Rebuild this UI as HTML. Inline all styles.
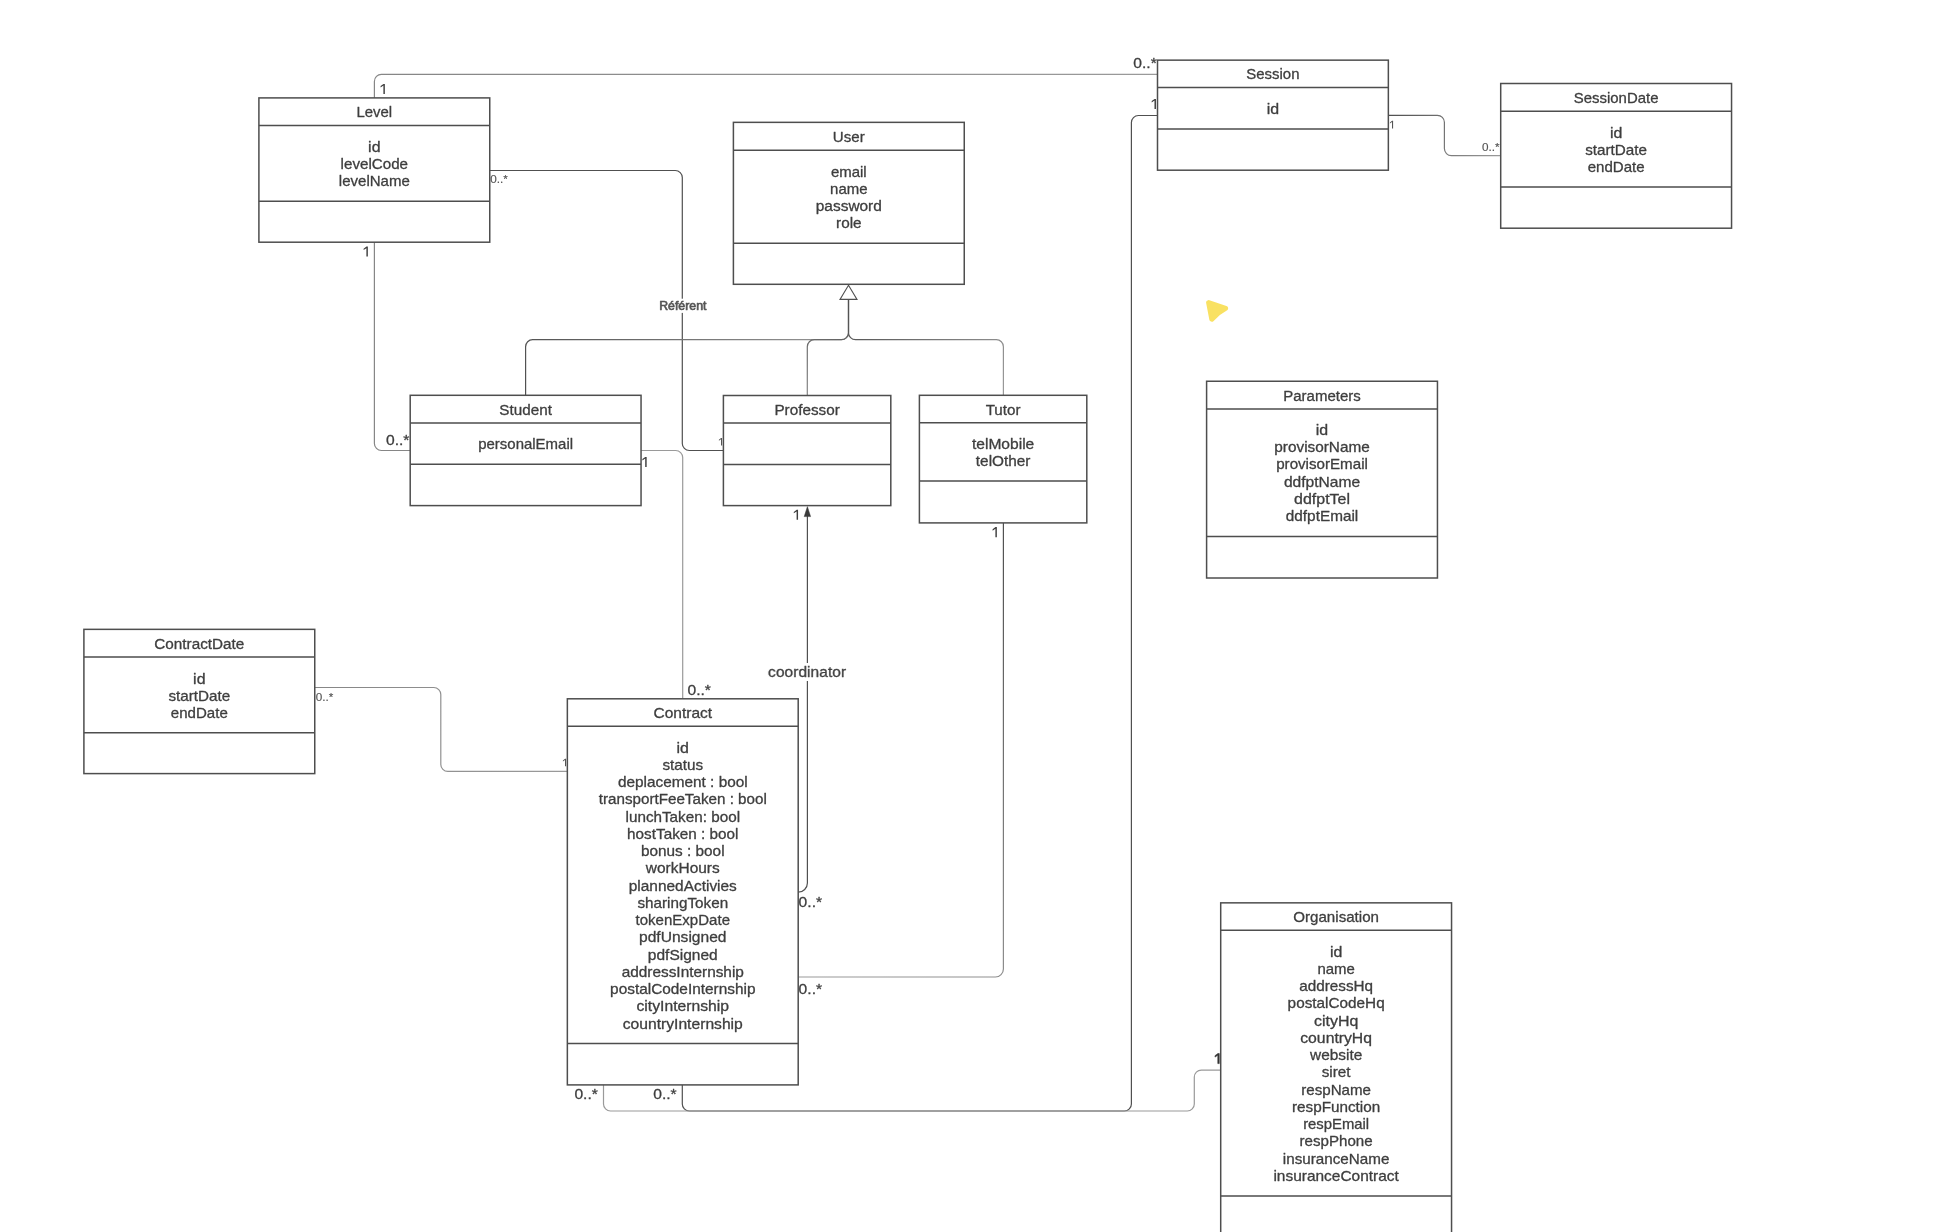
<!DOCTYPE html>
<html lang="en">
<head>
<meta charset="utf-8">
<title>Class diagram</title>
<style>
html,body{margin:0;padding:0;background:#fff;}
body{width:1934px;height:1232px;overflow:hidden;font-family:"Liberation Sans",sans-serif;}
svg{display:block;will-change:transform;}
text{font-family:"Liberation Sans",sans-serif;stroke-width:0.3px;stroke-linejoin:round;}
</style>
</head>
<body>
<svg width="1934" height="1232" viewBox="0 0 1934 1232" font-family="'Liberation Sans', sans-serif">
<defs><linearGradient id="g1" gradientUnits="userSpaceOnUse" x1="374.4" y1="98" x2="1157.5" y2="74.4"><stop offset="0" stop-color="#868686"/><stop offset="1" stop-color="#9a9a9a"/></linearGradient><linearGradient id="g2" gradientUnits="userSpaceOnUse" x1="525.6" y1="395.3" x2="848.5" y2="299.4"><stop offset="0" stop-color="#505050"/><stop offset="1" stop-color="#9a9a9a"/></linearGradient><linearGradient id="g3" gradientUnits="userSpaceOnUse" x1="807.3" y1="395.4" x2="848.5" y2="299.4"><stop offset="0" stop-color="#868686"/><stop offset="1" stop-color="#505050"/></linearGradient><linearGradient id="g4" gradientUnits="userSpaceOnUse" x1="1003.4" y1="395.3" x2="848.5" y2="299.4"><stop offset="0" stop-color="#9a9a9a"/><stop offset="1" stop-color="#505050"/></linearGradient><linearGradient id="g5" gradientUnits="userSpaceOnUse" x1="1003.4" y1="522.9" x2="798.2" y2="977"><stop offset="0" stop-color="#505050"/><stop offset="1" stop-color="#9a9a9a"/></linearGradient><linearGradient id="g6" gradientUnits="userSpaceOnUse" x1="1388.5" y1="115.3" x2="1500.7" y2="155.6"><stop offset="0" stop-color="#505050"/><stop offset="1" stop-color="#9a9a9a"/></linearGradient><linearGradient id="g7" gradientUnits="userSpaceOnUse" x1="315" y1="687.5" x2="567.3" y2="771.4"><stop offset="0" stop-color="#868686"/><stop offset="1" stop-color="#9a9a9a"/></linearGradient></defs>
<path d="M374.4 98L374.4 81.4A7 7 0 0 1 381.4 74.4L1157.5 74.4" fill="none" stroke="url(#g1)" stroke-width="1.2"/>
<path d="M374.4 242.2L374.4 443.5A7 7 0 0 0 381.4 450.5L410.2 450.5" fill="none" stroke="#868686" stroke-width="1.2"/>
<path d="M489.7 170.5L675.3 170.5A7 7 0 0 1 682.3 177.5L682.3 443.5A7 7 0 0 0 689.3 450.5L723.4 450.5" fill="none" stroke="#505050" stroke-width="1.2"/>
<path d="M641 450.5L675.7 450.5A7 7 0 0 1 682.7 457.5L682.7 698.8" fill="none" stroke="#9a9a9a" stroke-width="1.2"/>
<path d="M525.6 395.3L525.6 346.7A7 7 0 0 1 532.6 339.7L841.5 339.7A7 7 0 0 0 848.5 332.7L848.5 299.4" fill="none" stroke="url(#g2)" stroke-width="1.2"/>
<path d="M807.3 395.4L807.3 346.7A7 7 0 0 1 814.3 339.7L841.5 339.7A7 7 0 0 0 848.5 332.7L848.5 299.4" fill="none" stroke="url(#g3)" stroke-width="1.2"/>
<path d="M1003.4 395.3L1003.4 346.7A7 7 0 0 0 996.4 339.7L855.5 339.7A7 7 0 0 1 848.5 332.7L848.5 299.4" fill="none" stroke="url(#g4)" stroke-width="1.2"/>
<path d="M848.5 285.3L857 299.4H840L848.5 285.3Z" fill="#fff" stroke="#505050" stroke-width="1.1" stroke-linejoin="miter"/>
<path d="M798.2 892.2A9.2 9.2 0 0 0 807.4 883L807.4 512" fill="none" stroke="#505050" stroke-width="1.2"/>
<path d="M807.4 506.6L810.6 516.6H804.2Z" fill="#3a3a3a" stroke="#3a3a3a" stroke-width="0.5"/>
<path d="M1003.4 522.9L1003.4 969A8 8 0 0 1 995.4 977L798.2 977" fill="none" stroke="url(#g5)" stroke-width="1.2"/>
<path d="M1157.5 115.5L1138.4 115.5A7 7 0 0 0 1131.4 122.5L1131.4 1104A7 7 0 0 1 1124.4 1111L689.3 1111A7 7 0 0 1 682.3 1104L682.3 1084.6" fill="none" stroke="#505050" stroke-width="1.2"/>
<path d="M603.5 1084.6L603.5 1104A7 7 0 0 0 610.5 1111L1187.3 1111A7 7 0 0 0 1194.3 1104L1194.3 1077.1A7 7 0 0 1 1201.3 1070.1L1220.7 1070.1" fill="none" stroke="#9a9a9a" stroke-width="1.2"/>
<path d="M1388.5 115.3L1437.4 115.3A7 7 0 0 1 1444.4 122.3L1444.4 148.6A7 7 0 0 0 1451.4 155.6L1500.7 155.6" fill="none" stroke="url(#g6)" stroke-width="1.2"/>
<path d="M315 687.5L433.8 687.5A7 7 0 0 1 440.8 694.5L440.8 764.4A7 7 0 0 0 447.8 771.4L567.3 771.4" fill="none" stroke="url(#g7)" stroke-width="1.2"/>
<rect x="258.9" y="97.9" width="230.85" height="144.3" fill="#fff" stroke="#4e4e4e" stroke-width="1.5"/>
<path d="M258.9 125.5H489.75M258.9 201.3H489.75" stroke="#4e4e4e" stroke-width="1.5" fill="none"/>
<text transform="translate(374.32,117) scale(1.0378,1)" font-size="14.4" text-anchor="middle" fill="#3e3e3e" stroke="#3e3e3e">Level</text>
<text transform="translate(374.32,152) scale(1.1077,1)" font-size="14.4" text-anchor="middle" fill="#3e3e3e" stroke="#3e3e3e">id</text>
<text transform="translate(374.32,169) scale(1.0541,1)" font-size="14.4" text-anchor="middle" fill="#3e3e3e" stroke="#3e3e3e">levelCode</text>
<text transform="translate(374.32,186) scale(1.0444,1)" font-size="14.4" text-anchor="middle" fill="#3e3e3e" stroke="#3e3e3e">levelName</text>
<rect x="733.4" y="122.35" width="230.85" height="161.95" fill="#fff" stroke="#4e4e4e" stroke-width="1.5"/>
<path d="M733.4 150.25H964.25M733.4 243.2H964.25" stroke="#4e4e4e" stroke-width="1.5" fill="none"/>
<text transform="translate(848.82,142) scale(1.0494,1)" font-size="14.4" text-anchor="middle" fill="#3e3e3e" stroke="#3e3e3e">User</text>
<text transform="translate(848.82,177) scale(1.0393,1)" font-size="14.4" text-anchor="middle" fill="#3e3e3e" stroke="#3e3e3e">email</text>
<text transform="translate(848.82,194) scale(1.0397,1)" font-size="14.4" text-anchor="middle" fill="#3e3e3e" stroke="#3e3e3e">name</text>
<text transform="translate(848.82,211) scale(1.0733,1)" font-size="14.4" text-anchor="middle" fill="#3e3e3e" stroke="#3e3e3e">password</text>
<text transform="translate(848.82,228) scale(1.0641,1)" font-size="14.4" text-anchor="middle" fill="#3e3e3e" stroke="#3e3e3e">role</text>
<rect x="1157.5" y="60.15" width="230.85" height="110.05" fill="#fff" stroke="#4e4e4e" stroke-width="1.5"/>
<path d="M1157.5 87.4H1388.35M1157.5 128.9H1388.35" stroke="#4e4e4e" stroke-width="1.5" fill="none"/>
<text transform="translate(1272.92,79) scale(1.0377,1)" font-size="14.4" text-anchor="middle" fill="#3e3e3e" stroke="#3e3e3e">Session</text>
<text transform="translate(1272.92,114) scale(1.1077,1)" font-size="14.4" text-anchor="middle" fill="#3e3e3e" stroke="#3e3e3e">id</text>
<rect x="1500.7" y="83.5" width="230.85" height="144.7" fill="#fff" stroke="#4e4e4e" stroke-width="1.5"/>
<path d="M1500.7 111.25H1731.55M1500.7 187H1731.55" stroke="#4e4e4e" stroke-width="1.5" fill="none"/>
<text transform="translate(1616.12,103) scale(1.0376,1)" font-size="14.4" text-anchor="middle" fill="#3e3e3e" stroke="#3e3e3e">SessionDate</text>
<text transform="translate(1616.12,138) scale(1.1077,1)" font-size="14.4" text-anchor="middle" fill="#3e3e3e" stroke="#3e3e3e">id</text>
<text transform="translate(1616.12,155) scale(1.0589,1)" font-size="14.4" text-anchor="middle" fill="#3e3e3e" stroke="#3e3e3e">startDate</text>
<text transform="translate(1616.12,172) scale(1.0459,1)" font-size="14.4" text-anchor="middle" fill="#3e3e3e" stroke="#3e3e3e">endDate</text>
<rect x="410.2" y="395.3" width="230.85" height="110.3" fill="#fff" stroke="#4e4e4e" stroke-width="1.5"/>
<path d="M410.2 422.9H641.05M410.2 464.3H641.05" stroke="#4e4e4e" stroke-width="1.5" fill="none"/>
<text transform="translate(525.62,415) scale(1.0588,1)" font-size="14.4" text-anchor="middle" fill="#3e3e3e" stroke="#3e3e3e">Student</text>
<text transform="translate(525.62,449) scale(1.0402,1)" font-size="14.4" text-anchor="middle" fill="#3e3e3e" stroke="#3e3e3e">personalEmail</text>
<rect x="723.4" y="395.5" width="167.4" height="110.1" fill="#fff" stroke="#4e4e4e" stroke-width="1.5"/>
<path d="M723.4 422.9H890.8M723.4 464.4H890.8" stroke="#4e4e4e" stroke-width="1.5" fill="none"/>
<text transform="translate(807.1,415) scale(1.0621,1)" font-size="14.4" text-anchor="middle" fill="#3e3e3e" stroke="#3e3e3e">Professor</text>
<rect x="919.4" y="395.3" width="167.4" height="127.6" fill="#fff" stroke="#4e4e4e" stroke-width="1.5"/>
<path d="M919.4 422.8H1086.8M919.4 481.1H1086.8" stroke="#4e4e4e" stroke-width="1.5" fill="none"/>
<text transform="translate(1003.1,415) scale(1.0552,1)" font-size="14.4" text-anchor="middle" fill="#3e3e3e" stroke="#3e3e3e">Tutor</text>
<text transform="translate(1003.1,449) scale(1.0824,1)" font-size="14.4" text-anchor="middle" fill="#3e3e3e" stroke="#3e3e3e">telMobile</text>
<text transform="translate(1003.1,466) scale(1.0652,1)" font-size="14.4" text-anchor="middle" fill="#3e3e3e" stroke="#3e3e3e">telOther</text>
<rect x="1206.6" y="381.25" width="230.85" height="196.75" fill="#fff" stroke="#4e4e4e" stroke-width="1.5"/>
<path d="M1206.6 409H1437.45M1206.6 536.5H1437.45" stroke="#4e4e4e" stroke-width="1.5" fill="none"/>
<text transform="translate(1322.02,401) scale(1.0425,1)" font-size="14.4" text-anchor="middle" fill="#3e3e3e" stroke="#3e3e3e">Parameters</text>
<text transform="translate(1322.02,435) scale(1.1077,1)" font-size="14.4" text-anchor="middle" fill="#3e3e3e" stroke="#3e3e3e">id</text>
<text transform="translate(1322.02,452) scale(1.0653,1)" font-size="14.4" text-anchor="middle" fill="#3e3e3e" stroke="#3e3e3e">provisorName</text>
<text transform="translate(1322.02,469) scale(1.0522,1)" font-size="14.4" text-anchor="middle" fill="#3e3e3e" stroke="#3e3e3e">provisorEmail</text>
<text transform="translate(1322.02,487) scale(1.0832,1)" font-size="14.4" text-anchor="middle" fill="#3e3e3e" stroke="#3e3e3e">ddfptName</text>
<text transform="translate(1322.02,504) scale(1.1074,1)" font-size="14.4" text-anchor="middle" fill="#3e3e3e" stroke="#3e3e3e">ddfptTel</text>
<text transform="translate(1322.02,521) scale(1.0659,1)" font-size="14.4" text-anchor="middle" fill="#3e3e3e" stroke="#3e3e3e">ddfptEmail</text>
<rect x="83.9" y="629.35" width="230.85" height="144.25" fill="#fff" stroke="#4e4e4e" stroke-width="1.5"/>
<path d="M83.9 656.9H314.75M83.9 732.7H314.75" stroke="#4e4e4e" stroke-width="1.5" fill="none"/>
<text transform="translate(199.32,649) scale(1.0629,1)" font-size="14.4" text-anchor="middle" fill="#3e3e3e" stroke="#3e3e3e">ContractDate</text>
<text transform="translate(199.32,684) scale(1.1077,1)" font-size="14.4" text-anchor="middle" fill="#3e3e3e" stroke="#3e3e3e">id</text>
<text transform="translate(199.32,701) scale(1.0589,1)" font-size="14.4" text-anchor="middle" fill="#3e3e3e" stroke="#3e3e3e">startDate</text>
<text transform="translate(199.32,718) scale(1.0459,1)" font-size="14.4" text-anchor="middle" fill="#3e3e3e" stroke="#3e3e3e">endDate</text>
<rect x="567.35" y="698.8" width="230.85" height="386.1" fill="#fff" stroke="#4e4e4e" stroke-width="1.5"/>
<path d="M567.35 726.35H798.2M567.35 1043.4H798.2" stroke="#4e4e4e" stroke-width="1.5" fill="none"/>
<text transform="translate(682.77,718) scale(1.0779,1)" font-size="14.4" text-anchor="middle" fill="#3e3e3e" stroke="#3e3e3e">Contract</text>
<text transform="translate(682.77,753) scale(1.1077,1)" font-size="14.4" text-anchor="middle" fill="#3e3e3e" stroke="#3e3e3e">id</text>
<text transform="translate(682.77,770) scale(1.0613,1)" font-size="14.4" text-anchor="middle" fill="#3e3e3e" stroke="#3e3e3e">status</text>
<text transform="translate(682.77,787) scale(1.0683,1)" font-size="14.4" text-anchor="middle" fill="#3e3e3e" stroke="#3e3e3e">deplacement : bool</text>
<text transform="translate(682.77,804) scale(1.0569,1)" font-size="14.4" text-anchor="middle" fill="#3e3e3e" stroke="#3e3e3e">transportFeeTaken : bool</text>
<text transform="translate(682.77,822) scale(1.0603,1)" font-size="14.4" text-anchor="middle" fill="#3e3e3e" stroke="#3e3e3e">lunchTaken: bool</text>
<text transform="translate(682.77,839) scale(1.0622,1)" font-size="14.4" text-anchor="middle" fill="#3e3e3e" stroke="#3e3e3e">hostTaken : bool</text>
<text transform="translate(682.77,856) scale(1.0657,1)" font-size="14.4" text-anchor="middle" fill="#3e3e3e" stroke="#3e3e3e">bonus : bool</text>
<text transform="translate(682.77,873) scale(1.0737,1)" font-size="14.4" text-anchor="middle" fill="#3e3e3e" stroke="#3e3e3e">workHours</text>
<text transform="translate(682.77,891) scale(1.0731,1)" font-size="14.4" text-anchor="middle" fill="#3e3e3e" stroke="#3e3e3e">plannedActivies</text>
<text transform="translate(682.77,908) scale(1.0597,1)" font-size="14.4" text-anchor="middle" fill="#3e3e3e" stroke="#3e3e3e">sharingToken</text>
<text transform="translate(682.77,925) scale(1.045,1)" font-size="14.4" text-anchor="middle" fill="#3e3e3e" stroke="#3e3e3e">tokenExpDate</text>
<text transform="translate(682.77,942) scale(1.0828,1)" font-size="14.4" text-anchor="middle" fill="#3e3e3e" stroke="#3e3e3e">pdfUnsigned</text>
<text transform="translate(682.77,960) scale(1.0787,1)" font-size="14.4" text-anchor="middle" fill="#3e3e3e" stroke="#3e3e3e">pdfSigned</text>
<text transform="translate(682.77,977) scale(1.0693,1)" font-size="14.4" text-anchor="middle" fill="#3e3e3e" stroke="#3e3e3e">addressInternship</text>
<text transform="translate(682.77,994) scale(1.069,1)" font-size="14.4" text-anchor="middle" fill="#3e3e3e" stroke="#3e3e3e">postalCodeInternship</text>
<text transform="translate(682.77,1011) scale(1.0921,1)" font-size="14.4" text-anchor="middle" fill="#3e3e3e" stroke="#3e3e3e">cityInternship</text>
<text transform="translate(682.77,1029) scale(1.0883,1)" font-size="14.4" text-anchor="middle" fill="#3e3e3e" stroke="#3e3e3e">countryInternship</text>
<rect x="1220.7" y="902.85" width="230.85" height="334.35" fill="#fff" stroke="#4e4e4e" stroke-width="1.5"/>
<path d="M1220.7 930.3H1451.55M1220.7 1195.9H1451.55" stroke="#4e4e4e" stroke-width="1.5" fill="none"/>
<text transform="translate(1336.12,922) scale(1.0512,1)" font-size="14.4" text-anchor="middle" fill="#3e3e3e" stroke="#3e3e3e">Organisation</text>
<text transform="translate(1336.12,957) scale(1.1077,1)" font-size="14.4" text-anchor="middle" fill="#3e3e3e" stroke="#3e3e3e">id</text>
<text transform="translate(1336.12,974) scale(1.0397,1)" font-size="14.4" text-anchor="middle" fill="#3e3e3e" stroke="#3e3e3e">name</text>
<text transform="translate(1336.12,991) scale(1.0623,1)" font-size="14.4" text-anchor="middle" fill="#3e3e3e" stroke="#3e3e3e">addressHq</text>
<text transform="translate(1336.12,1008) scale(1.0636,1)" font-size="14.4" text-anchor="middle" fill="#3e3e3e" stroke="#3e3e3e">postalCodeHq</text>
<text transform="translate(1336.12,1026) scale(1.1065,1)" font-size="14.4" text-anchor="middle" fill="#3e3e3e" stroke="#3e3e3e">cityHq</text>
<text transform="translate(1336.12,1043) scale(1.0943,1)" font-size="14.4" text-anchor="middle" fill="#3e3e3e" stroke="#3e3e3e">countryHq</text>
<text transform="translate(1336.12,1060) scale(1.07,1)" font-size="14.4" text-anchor="middle" fill="#3e3e3e" stroke="#3e3e3e">website</text>
<text transform="translate(1336.12,1077) scale(1.0618,1)" font-size="14.4" text-anchor="middle" fill="#3e3e3e" stroke="#3e3e3e">siret</text>
<text transform="translate(1336.12,1095) scale(1.0511,1)" font-size="14.4" text-anchor="middle" fill="#3e3e3e" stroke="#3e3e3e">respName</text>
<text transform="translate(1336.12,1112) scale(1.061,1)" font-size="14.4" text-anchor="middle" fill="#3e3e3e" stroke="#3e3e3e">respFunction</text>
<text transform="translate(1336.12,1129) scale(1.0312,1)" font-size="14.4" text-anchor="middle" fill="#3e3e3e" stroke="#3e3e3e">respEmail</text>
<text transform="translate(1336.12,1146) scale(1.0497,1)" font-size="14.4" text-anchor="middle" fill="#3e3e3e" stroke="#3e3e3e">respPhone</text>
<text transform="translate(1336.12,1164) scale(1.058,1)" font-size="14.4" text-anchor="middle" fill="#3e3e3e" stroke="#3e3e3e">insuranceName</text>
<text transform="translate(1336.12,1181) scale(1.0739,1)" font-size="14.4" text-anchor="middle" fill="#3e3e3e" stroke="#3e3e3e">insuranceContract</text>
<path d="M380.6 86.1L383.5 83.9L384.85 83.9L384.85 94L383.4 94L383.4 85.6L380.6 87.5Z" fill="#3e3e3e"/>
<text transform="translate(1133.3,68) scale(1.0862,1)" font-size="14.4" text-anchor="start" fill="#3e3e3e" stroke="#3e3e3e">0..*</text>
<path d="M363.6 248.7L366.5 246.5L367.85 246.5L367.85 256.6L366.4 256.6L366.4 248.2L363.6 250.1Z" fill="#3e3e3e"/>
<text transform="translate(386,444.8) scale(1.0862,1)" font-size="14.4" text-anchor="start" fill="#3e3e3e" stroke="#3e3e3e">0..*</text>
<path d="M642.4 459.1L645.3 456.9L646.65 456.9L646.65 467L645.2 467L645.2 458.6L642.4 460.5Z" fill="#3e3e3e"/>
<text transform="translate(687.5,695) scale(1.0862,1)" font-size="14.4" text-anchor="start" fill="#3e3e3e" stroke="#3e3e3e">0..*</text>
<path d="M793.8 511.9L796.7 509.7L798.05 509.7L798.05 519.8L796.6 519.8L796.6 511.4L793.8 513.3Z" fill="#3e3e3e"/>
<text transform="translate(798.6,907.2) scale(1.0862,1)" font-size="14.4" text-anchor="start" fill="#3e3e3e" stroke="#3e3e3e">0..*</text>
<path d="M992.6 529.3L995.5 527.1L996.85 527.1L996.85 537.2L995.4 537.2L995.4 528.8L992.6 530.7Z" fill="#3e3e3e"/>
<text transform="translate(798.6,994) scale(1.0862,1)" font-size="14.4" text-anchor="start" fill="#3e3e3e" stroke="#3e3e3e">0..*</text>
<path d="M1151.7 101.1L1154.6 98.9L1155.95 98.9L1155.95 109L1154.5 109L1154.5 100.6L1151.7 102.5Z" fill="#3e3e3e"/>
<text transform="translate(653.2,1099) scale(1.0862,1)" font-size="14.4" text-anchor="start" fill="#3e3e3e" stroke="#3e3e3e">0..*</text>
<text transform="translate(574.4,1099) scale(1.0862,1)" font-size="14.4" text-anchor="start" fill="#3e3e3e" stroke="#3e3e3e">0..*</text>
<path d="M1215 1055.7L1217.9 1053.5L1219.25 1053.5L1219.25 1063.6L1217.8 1063.6L1217.8 1055.2L1215 1057.1Z" fill="#333" stroke="#333" stroke-width="0.6" stroke-linejoin="round"/>
<text transform="translate(490.3,183) scale(1.0862,1)" font-size="10.8" text-anchor="start" fill="#555" stroke="#555" style="stroke-width:0.15px">0..*</text>
<path d="M718.9 439.68L721.07 438.03L722.09 438.03L722.09 445.6L721 445.6L721 439.3L718.9 440.73Z" fill="#555"/>
<path d="M1389.9 122.48L1392.08 120.83L1393.09 120.83L1393.09 128.4L1392 128.4L1392 122.1L1389.9 123.53Z" fill="#555"/>
<text transform="translate(1482,150.8) scale(1.0862,1)" font-size="10.8" text-anchor="start" fill="#555" stroke="#555" style="stroke-width:0.15px">0..*</text>
<text transform="translate(315.8,700.6) scale(1.0862,1)" font-size="10.8" text-anchor="start" fill="#555" stroke="#555" style="stroke-width:0.15px">0..*</text>
<path d="M562.9 760.38L565.07 758.72L566.09 758.72L566.09 766.3L565 766.3L565 760L562.9 761.42Z" fill="#555"/>
<rect x="657" y="298.7" width="51" height="14.2" fill="#fff"/>
<text transform="translate(682.8,309.9) scale(1.027,1)" font-size="12" text-anchor="middle" fill="#555" stroke="#555" style="stroke-width:0.65px">R&#233;f&#233;rent</text>
<rect x="766" y="663" width="82" height="18" fill="#fff"/>
<text transform="translate(807,677) scale(1.0828,1)" font-size="14.4" text-anchor="middle" fill="#3e3e3e" stroke="#3e3e3e">coordinator</text>
<path d="M1208.6 302.6L1225.6 308.4Q1217.8 312.6 1211.8 319.2Z" fill="#f9e162" stroke="#f9e162" stroke-width="5" stroke-linejoin="round"/>
</svg>
</body>
</html>
